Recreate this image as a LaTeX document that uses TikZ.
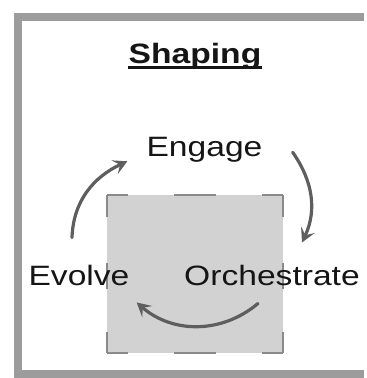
\documentclass[tikz,border=0pt]{standalone}
\usepackage{fontspec}
\setmainfont{Liberation Sans}
\usetikzlibrary{arrows.meta}
\definecolor{framegray}{HTML}{9C9C9C}
\definecolor{boxgray}{HTML}{D2D2D2}
\definecolor{dashgray}{HTML}{8A8A8A}
\definecolor{arrowgray}{HTML}{5E5E5E}
\definecolor{ink}{HTML}{151515}
\tikzset{
cyc/.style={->,>={Stealth[length=14pt,width=15pt,inset=6pt]},line width=3.2pt,draw=arrowgray,line cap=round},
lbl/.style={font=\fontsize{28}{34}\selectfont,text=ink,inner sep=0pt,anchor=base,xscale=1.2,transform shape},
hside/.style={dashgray,line width=2pt,dash pattern=on 21pt off 46pt on 42pt off 46pt on 30pt},
vside/.style={dashgray,line width=2pt,dash pattern=on 22pt off 46pt on 26pt off 43pt on 30pt}
}

\begin{document}
\begin{tikzpicture}[x=1pt,y=1pt]
	\useasboundingbox (0,0) rectangle (367,-378);
	
	%frame
	\draw[framegray,line width=8pt] (364,-17) -- (18,-17) -- (18,-374) -- (364,-374);
	
	%shaded square
	\coordinate (s1) at (107,-195);
	\coordinate (s2) at (283,-195);
	\coordinate (s3) at (283,-353);
	\coordinate (s4) at (107,-353);
	\fill[boxgray] (s1) rectangle (s3);
	\draw[hside] (s1) -- (s2);
	\draw[hside] (s4) -- (s3);
	\draw[vside] (s1) -- (s4);
	\draw[vside] (s2) -- (s3);
	
	%labels
	\node[lbl,font=\fontsize{28}{34}\selectfont\bfseries] (title) at (195,-63) {Shaping};
	\draw[ink,line width=2.2pt] ([yshift=-4.5pt]title.base west) -- ([yshift=-4.5pt]title.base east);
	\node[lbl] (engage) at (204.5,-156) {Engage};
	\node[lbl] (evolve) at (79,-285) {Evolve};
	\node[lbl] (orch) at (272,-285) {Orchestrate};
	
	%cycle
	\draw[cyc] ([shift={(-7,27)}]evolve.north) to[out=88,in=205] ([shift={(-19,-12)}]engage.west);
	\draw[cyc] ([shift={(30,-3)}]engage.east) to[out=-55,in=65] ([shift={(30,22)}]orch.north);
	\draw[cyc] ([shift={(-14,-18)}]orch.south) to[out=-140,in=-41] ([shift={(7,-17)}]evolve.south east);
	
\end{tikzpicture}
\end{document}
